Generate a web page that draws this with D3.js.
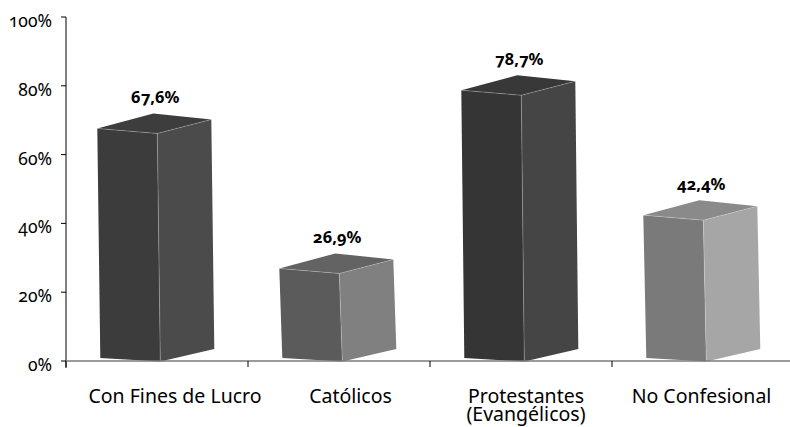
<!DOCTYPE html>
<html>
<head>
<meta charset="utf-8">
<script src="https://cdn.jsdelivr.net/npm/d3@7"></script>
<style>
  body { margin: 0; background: #fff; }
  svg text { font-family: "Noto Sans", "Open Sans", sans-serif; font-variant-numeric: oldstyle-nums; }
</style>
</head>
<body>
<svg id="chart" width="790" height="427"></svg>
<script>
// data
const categories = ["Con Fines de Lucro", "Católicos", "Protestantes\n(Evangélicos)", "No Confesional"];
const values = [67.6, 26.9, 78.7, 42.4];
const valueLabels = ["67,6%", "26,9%", "78,7%", "42,4%"];
const yTicks = [0, 20, 40, 60, 80, 100];

// face colours per bar: front, side, top
const faceColors = [
    ["#3c3c3c", "#4b4b4b", "#3d3d3d"],
    ["#5b5b5b", "#808080", "#636363"],
    ["#353535", "#454545", "#383838"],
    ["#7a7a7a", "#a6a6a6", "#8a8a8a"]
];

const svg = d3.select("#chart");

const x = d3.scaleBand()
    .domain(categories)
    .range([66, 794])
    .padding(0);

const y = d3.scaleLinear()
    .domain([0, 100])
    .range([361, 17]);

const bw = x.bandwidth();

// box geometry relative to band (perspective-ish Excel 3D column)
function boxPts(cat, v) {
    const x0 = x(cat) + bw * 0.172;
    const yT = y(v), yB = y(0);
    return {
        front: [[x0, yT], [x0 + 60, yT + 5], [x0 + 63, yB + 0.5], [x0 + 3, yB - 3]],
        side: [[x0 + 60, yT + 5], [x0 + 114, yT - 9], [x0 + 117, yB - 12], [x0 + 63, yB + 0.5]],
        top: [[x0, yT], [x0 + 56, yT - 15], [x0 + 114, yT - 9], [x0 + 60, yT + 5]],
        cx: x0 + 58,
        yT
    };
}

const line = d3.line();

// y axis
const yAxis = svg.append("g");
yAxis.append("line")
    .attr("x1", 66).attr("x2", 66)
    .attr("y1", y(100)).attr("y2", y(0) + 7)
    .attr("stroke", "#000").attr("stroke-width", 1);

yAxis.selectAll(".tick")
    .data(yTicks)
    .join("line")
    .attr("x1", 61).attr("x2", 66)
    .attr("y1", d => y(d)).attr("y2", d => y(d))
    .attr("stroke", "#000");

yAxis.selectAll(".lbl")
    .data(yTicks)
    .join("text")
    .attr("x", 52)
    .attr("y", d => y(d) + 10)
    .attr("text-anchor", "end")
    .style("font-size", "17.5px")
    .attr("fill", "#000")
    .text(d => d + "%");

// bars
const bars = svg.append("g")
    .selectAll("g")
    .data(categories)
    .join("g");

bars.each(function(cat, i) {
    const g = d3.select(this);
    const p = boxPts(cat, values[i]);
    g.append("path").attr("d", line(p.front) + "Z").attr("fill", faceColors[i][0]);
    g.append("path").attr("d", line(p.side) + "Z").attr("fill", faceColors[i][1]);
    g.append("path").attr("d", line(p.top) + "Z").attr("fill", faceColors[i][2]);
    // light inner edges
    g.append("path")
        .attr("d", line([p.top[0], p.top[3], p.front[2]]) + "M" + p.top[3] + "L" + p.top[2])
        .attr("fill", "none")
        .attr("stroke", "rgba(255,255,255,0.3)")
        .attr("stroke-width", 0.8);

    g.append("text")
        .attr("x", p.cx)
        .attr("y", p.yT - 25)
        .attr("text-anchor", "middle")
        .style("font-size", "16.5px")
        .style("font-weight", "bold")
        .attr("fill", "#000")
        .text(valueLabels[i]);
});

// x axis
const xAxis = svg.append("g");
xAxis.append("line")
    .attr("x1", 66).attr("x2", 790)
    .attr("y1", y(0)).attr("y2", y(0))
    .attr("stroke", "#7a7a7a").attr("stroke-width", 1.5);

xAxis.selectAll(".tick")
    .data(categories)
    .join("line")
    .attr("x1", d => x(d)).attr("x2", d => x(d))
    .attr("y1", y(0)).attr("y2", y(0) + 6)
    .attr("stroke", "#000");

const labels = xAxis.selectAll(".lbl")
    .data(categories)
    .join("text")
    .attr("text-anchor", "middle")
    .style("font-size", "19.5px")
    .attr("fill", "#000")
    .attr("transform", (d, i) => `translate(${x(d) + bw / 2 + 18 - 6.5 * i},403)`);

labels.selectAll("tspan")
    .data(d => d.split("\n"))
    .join("tspan")
    .attr("x", 0)
    .attr("dy", (d, j) => j === 0 ? 0 : 18)
    .text(d => d);
</script>
</body>
</html>
